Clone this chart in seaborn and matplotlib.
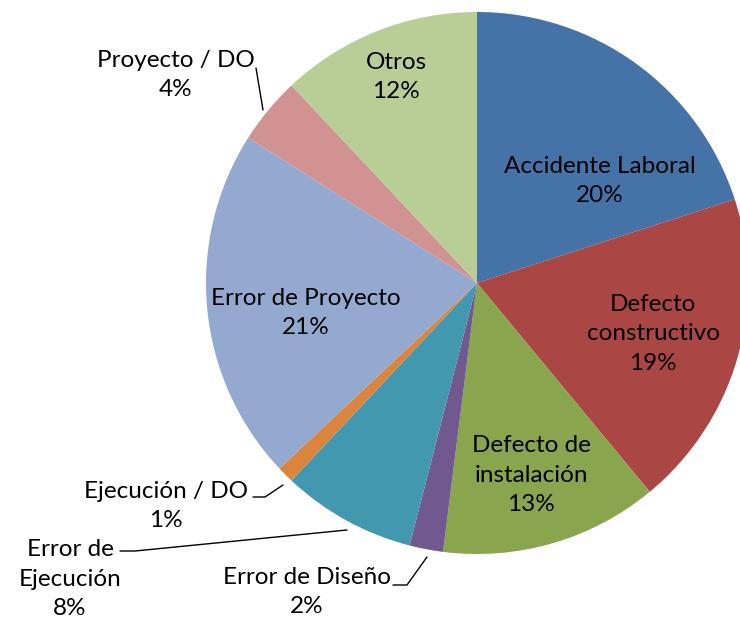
"""Pie chart of incident causes."""

import matplotlib

matplotlib.use("Agg")
import matplotlib.pyplot as plt
import seaborn as sns

W, H = 740, 625
CX, CY, R = 477, 283, 271  # pie centre / radius in pixels

causes = [
    "Accidente Laboral",
    "Defecto\nconstructivo",
    "Defecto de\ninstalación",
    "Error de Diseño",
    "Error de\nEjecución",
    "Ejecución / DO",
    "Error de Proyecto",
    "Proyecto / DO",
    "Otros",
]
shares = [20, 19, 13, 2, 8, 1, 21, 4, 12]
colors = [
    "#4572A7", "#AA4643", "#89A54E", "#71588F", "#4198AF",
    "#DB843D", "#93A9CF", "#D19392", "#B9CD96",
]

# label centres (pixels) and leader lines for the outside labels
label_pos = [
    (600, 181), (653, 334), (531, 475), (307, 592), (70, 579),
    (166, 506), (306, 313), (176, 75), (396, 77),
]
leaders = {
    3: [(393, 585), (407, 585), (427, 557)],
    4: [(120, 551), (135, 551), (347, 530)],
    5: [(253, 497), (265, 497), (283, 485)],
    7: [(256, 68), (263, 110)],
}


def px(x, y):
    return (x - CX) / R, (CY - y) / R


def main():
    sns.set_theme(style="white")
    plt.rcParams["font.family"] = ["Lato", "DejaVu Sans"]

    fig = plt.figure(figsize=(W / 100, H / 100), dpi=100)
    ax = fig.add_axes([0, 0, 1, 1])
    ax.pie(
        shares,
        colors=sns.color_palette(colors),
        startangle=90,
        counterclock=False,
        radius=1,
        wedgeprops={"linewidth": 0},
    )
    ax.set_aspect("auto")
    ax.set_xlim(-CX / R, (W - CX) / R)
    ax.set_ylim((CY - H) / R, CY / R)
    ax.axis("off")

    for i, (name, val) in enumerate(zip(causes, shares)):
        x, y = px(*label_pos[i])
        ax.text(
            x, y, f"{name}\n{val}%",
            ha="center", va="center", fontsize=17.5,
            linespacing=1.5, color="#000000",
        )
        if i in leaders:
            pts = [px(*p) for p in leaders[i]]
            ax.plot([p[0] for p in pts], [p[1] for p in pts],
                    color="#000000", lw=1)

    fig.savefig("out.png", dpi=100)


if __name__ == "__main__":
    main()
